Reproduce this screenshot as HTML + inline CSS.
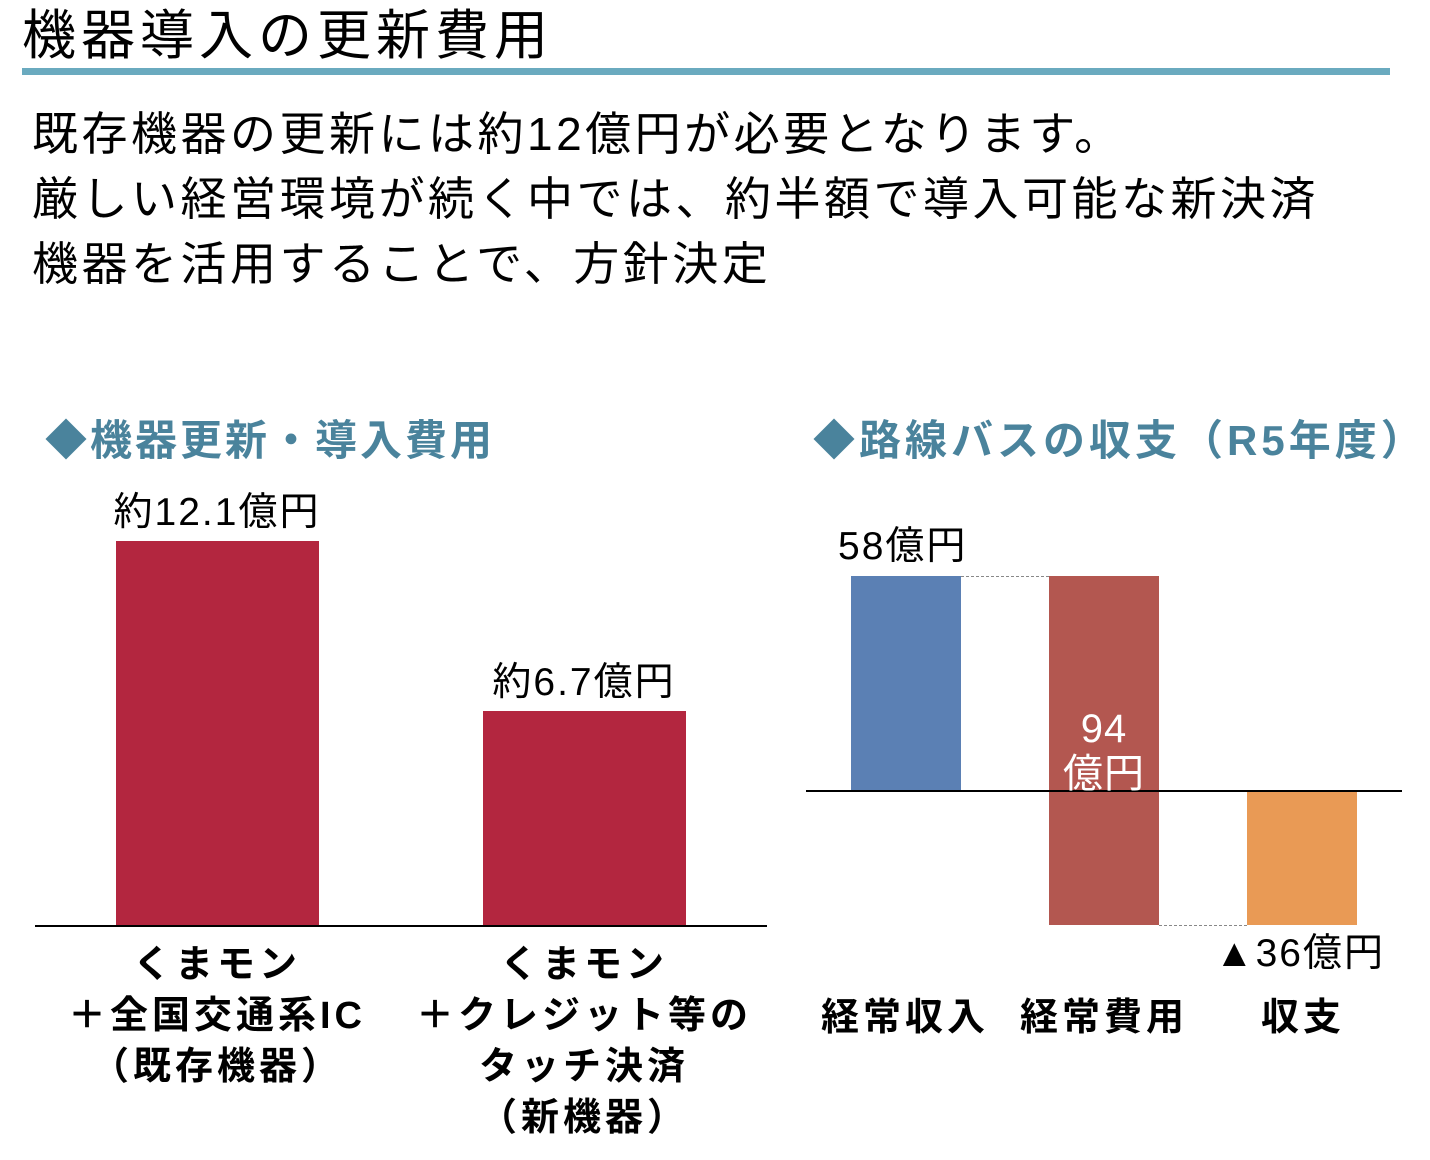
<!DOCTYPE html>
<html><head><meta charset="utf-8"><style>
body{margin:0;width:1430px;height:1160px;background:#fff;overflow:hidden;position:relative;font-family:"Liberation Sans","Noto Sans CJK JP",sans-serif;color:#000}
.a{position:absolute;white-space:nowrap}
.c{text-align:center;transform:translateX(-50%)}
.h{font-weight:bold;color:#4a839c;font-size:42px;line-height:42px}
.cat{font-weight:bold;font-size:38px;line-height:51px;text-align:center;letter-spacing:4px}
.lab{font-size:39px;line-height:40px;letter-spacing:2px}
</style></head><body>
<div class="a" style="left:22px;top:6px;font-size:54px;line-height:60px;letter-spacing:5px">機器導入の更新費用</div>
<div class="a" style="left:22px;top:68px;width:1368px;height:7px;background:#6aaabf"></div>
<div class="a" style="left:32px;top:102px;font-size:46px;line-height:65px;letter-spacing:3.5px">既存機器の更新には約12億円が必要となります。<br>厳しい経営環境が続く中では、約半額で導入可能な新決済<br>機器を活用することで、方針決定</div>

<div class="a h" style="left:45px;top:420px;letter-spacing:3px">◆機器更新・導入費用</div>
<div class="a h" style="left:813px;top:420px;letter-spacing:4px">◆路線バスの収支（R5年度）</div>

<div class="a lab c" style="left:217px;top:493px">約12.1億円</div>
<div class="a lab c" style="left:584px;top:663px">約6.7億円</div>
<div class="a" style="left:116px;top:541px;width:203px;height:385px;background:#b3263f"></div>
<div class="a" style="left:483px;top:711px;width:203px;height:215px;background:#b3263f"></div>
<div class="a" style="left:35px;top:925px;width:732px;height:2px;background:#000"></div>
<div class="a cat c" style="left:217px;top:940px">くまモン<br>＋全国交通系IC<br>（既存機器）</div>
<div class="a cat c" style="left:584px;top:940px">くまモン<br>＋クレジット等の<br>タッチ決済<br>（新機器）</div>

<div class="a lab" style="left:838px;top:527px">58億円</div>
<div class="a" style="left:851px;top:576px;width:110px;height:215px;background:#5b80b4"></div>
<div class="a" style="left:1049px;top:576px;width:110px;height:349px;background:#b35750"></div>
<div class="a" style="left:1247px;top:791px;width:110px;height:134px;background:#e99a55"></div>
<div class="a" style="left:961px;top:576px;width:88px;border-top:1px dashed #888"></div>
<div class="a" style="left:1159px;top:925px;width:88px;border-top:1px dashed #888"></div>
<div class="a" style="left:806px;top:790px;width:596px;height:2px;background:#000"></div>
<div class="a lab c" style="left:1104px;top:707px;color:#fff;line-height:45px;font-size:40px;letter-spacing:1px">94<br>億円</div>
<div class="a lab" style="left:1215px;top:934px">▲36億円</div>
<div class="a cat c" style="left:905px;top:993px">経常収入</div>
<div class="a cat c" style="left:1104px;top:993px">経常費用</div>
<div class="a cat c" style="left:1303px;top:993px">収支</div>
</body></html>
